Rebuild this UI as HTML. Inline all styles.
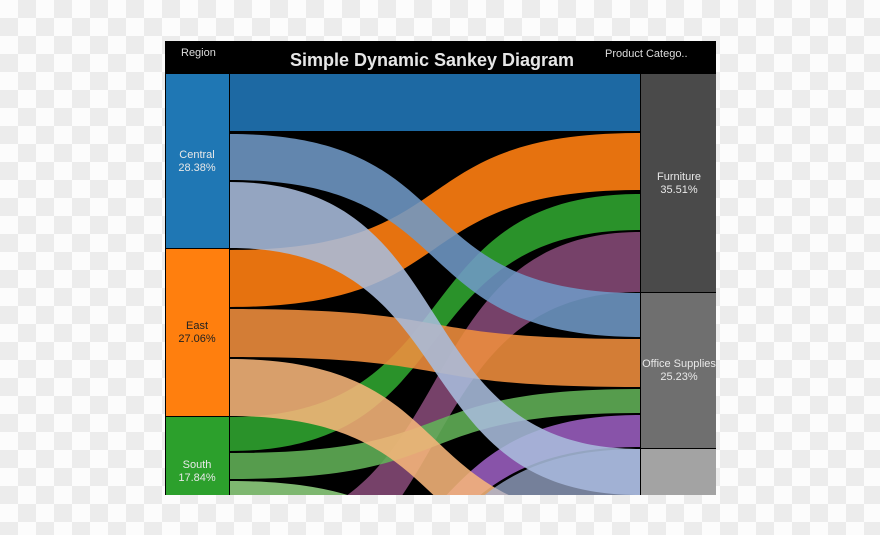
<!DOCTYPE html>
<html><head><meta charset="utf-8"><style>
html,body{margin:0;padding:0;width:880px;height:535px;overflow:hidden;}
body{position:relative;
background-color:#fff;
background-image:repeating-conic-gradient(#ececec 0 25%,#fcfcfc 0 50%);
background-size:36px 36px;
font-family:"Liberation Sans",sans-serif;}
svg{position:absolute;left:0;top:0;display:block;}
</style></head><body>
<svg width="880" height="535" viewBox="0 0 880 535">
<defs><clipPath id="c"><rect x="230" y="74" width="410" height="421"/></clipPath></defs>
<rect x="165" y="41" width="551" height="454" fill="#000"/>
<text x="181" y="56" fill="#ddd" font-size="11">Region</text>
<text x="432" y="66" fill="#e6e6e6" font-size="18" font-weight="bold" text-anchor="middle">Simple Dynamic Sankey Diagram</text>
<text x="605" y="57" fill="#ddd" font-size="11">Product Catego..</text>
<g clip-path="url(#c)" fill-opacity="0.88">
<rect x="230" y="74" width="410" height="57" fill="#1d69a3" fill-opacity="1"/>
<path d="M230,250 C470,250 400,133 640,133 L640,190 C400,190 470,307 230,307Z" fill="#e6720f" fill-opacity="1"/>
<path d="M230,417 C470,417 400,194 640,194 L640,230 C400,230 470,451 230,451Z" fill="#2a922a" fill-opacity="1"/>
<path d="M230,530 C470,530 400,232 640,232 L640,292 C400,292 470,590 230,590Z" fill="#864a78"/>
<path d="M230,600 C470,600 400,415 640,415 L640,447 C400,447 470,632 230,632Z" fill="#9b5fc0"/>
<path d="M230,309 C470,309 400,339 640,339 L640,387 C400,387 470,357 230,357Z" fill="#f08e3e"/>
<path d="M230,453 C470,453 400,389 640,389 L640,413 C400,413 470,479 230,479Z" fill="#62b258"/>
<path d="M230,481 C470,481 400,600 640,600 L640,616 C400,616 470,497 230,497Z" fill="#8fd080"/>
<path d="M230,359 C470,359 400,520 640,520 L640,577 C400,577 470,416 230,416Z" fill="#f6b57a"/>
<path d="M230,134 C470,134 400,293 640,293 L640,337 C400,337 470,180 230,180Z" fill="#7098c6"/>
<path d="M230,182 C470,182 400,449 640,449 L640,495 C400,495 470,248 230,248Z" fill="#a9bcdc"/>
<path d="M230,640 C470,640 400,449 640,449 L640,495 C400,495 470,690 230,690Z" fill="#a6b6dc" fill-opacity="0.7"/>
</g>
<rect x="166" y="74" width="63" height="174" fill="#1f77b4"/>
<rect x="166" y="249" width="63" height="167" fill="#ff7f0e"/>
<rect x="166" y="417" width="63" height="78" fill="#2ca02c"/>
<rect x="641" y="74" width="75" height="218" fill="#4a4a4a"/>
<rect x="641" y="293" width="75" height="155" fill="#6f6f6f"/>
<rect x="641" y="449" width="75" height="46" fill="#a3a3a3"/>
<g font-size="11" text-anchor="middle">
<text x="197" y="158" fill="#e8e8e8">Central</text><text x="197" y="171" fill="#e8e8e8">28.38%</text>
<text x="197" y="329" fill="#222">East</text><text x="197" y="342" fill="#222">27.06%</text>
<text x="197" y="468" fill="#e8e8e8">South</text><text x="197" y="481" fill="#e8e8e8">17.84%</text>
<text x="679" y="180" fill="#e8e8e8">Furniture</text><text x="679" y="193" fill="#e8e8e8">35.51%</text>
<text x="679" y="367" fill="#e8e8e8">Office Supplies</text><text x="679" y="380" fill="#e8e8e8">25.23%</text>
</g>
</svg>
</body></html>
